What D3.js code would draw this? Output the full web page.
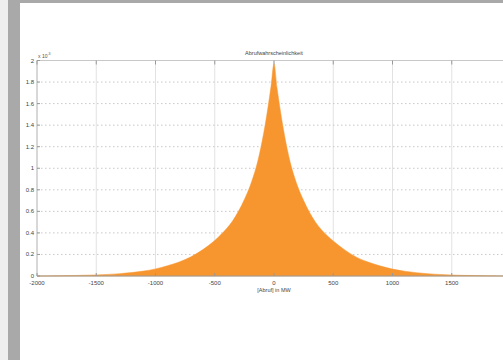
<!DOCTYPE html>
<html><head><meta charset="utf-8">
<script src="https://cdn.jsdelivr.net/npm/d3@7"></script>
<style>html,body{margin:0;padding:0;background:#fff;overflow:hidden}</style>
</head><body>
<svg id="c" width="503" height="360"></svg>
<script>
const title = "Abrufwahrscheinlichkeit";
const xLabel = "[Abruf] in MW";
const xTicks = [-2000, -1500, -1000, -500, 0, 500, 1000, 1500, 2000];
const yTicks = [0, 0.2, 0.4, 0.6, 0.8, 1, 1.2, 1.4, 1.6, 1.8, 2];
const yTickLabels = ["0", "0.2", "0.4", "0.6", "0.8", "1", "1.2", "1.4", "1.6", "1.8", "2"];
// Abruf in MW
const abruf = [-2000,-1900,-1800,-1700,-1600,-1500,-1400,-1300,-1200,-1100,-1000,-900,-800,-700,-600,-500,-400,-350,-300,-250,-200,-175,-150,-125,-100,-75,-50,-25,0,
               25,50,75,100,125,150,175,200,250,300,350,400,500,600,700,800,900,1000,1100,1200,1300,1400,1500,1600,1700,1800,1900,2000];
// probability (x 10^-3)
const prob = [0,0.001,0.002,0.004,0.007,0.01,0.015,0.022,0.032,0.046,0.066,0.095,0.13,0.178,0.245,0.33,0.44,0.51,0.6,0.71,0.84,0.92,1.01,1.12,1.25,1.4,1.57,1.76,1.97,
              1.75,1.56,1.39,1.24,1.11,1.0,0.91,0.83,0.7,0.59,0.5,0.43,0.325,0.24,0.172,0.127,0.092,0.064,0.045,0.031,0.021,0.014,0.009,0.006,0.004,0.002,0.001,0];

const svg = d3.select("#c");
// frame decorations
svg.append("rect").attr("x",0).attr("y",0).attr("width",8).attr("height",360).attr("fill","#efefef");
svg.append("rect").attr("x",8).attr("y",0).attr("width",12).attr("height",360).attr("fill","#a9a9a9");
svg.append("rect").attr("x",8).attr("y",0).attr("width",495).attr("height",3).attr("fill","#a9a9a9");

const x = d3.scaleLinear().domain([-2000,2000]).range([37,511]);
const y = d3.scaleLinear().domain([0,2]).range([276,60.5]);

const font = "Liberation Sans, Arial, sans-serif";
const g = svg.append("g");

// grid
g.selectAll(".vg").data(xTicks.slice(1,-1)).enter().append("line")
  .attr("x1",d=>x(d)).attr("x2",d=>x(d)).attr("y1",y(0)).attr("y2",y(2))
  .attr("stroke","#e2e2e2").attr("stroke-width",1);
g.selectAll(".hg").data(yTicks.slice(1,-1)).enter().append("line")
  .attr("x1",x(-2000)).attr("x2",x(2000)).attr("y1",d=>y(d)).attr("y2",d=>y(d))
  .attr("stroke","#c8c8c8").attr("stroke-width",1).attr("stroke-dasharray","1.5,2.5");

// area
const pts = abruf.map((a,i)=>[a,prob[i]]);
const area = d3.area().x(d=>x(d[0])).y0(y(0)).y1(d=>y(d[1])).curve(d3.curveMonotoneX);
g.append("path").attr("d",area(pts)).attr("fill","#f7952f").attr("stroke","#f7952f").attr("stroke-width",0.5);

// axes box
g.append("line").attr("x1",x(-2000)).attr("x2",x(2000)).attr("y1",y(0)).attr("y2",y(0)).attr("stroke","#9a9a9a");
g.append("line").attr("x1",x(-2000)).attr("x2",x(2000)).attr("y1",y(2)).attr("y2",y(2)).attr("stroke","#c8c8c8");
g.append("line").attr("x1",x(-2000)).attr("x2",x(-2000)).attr("y1",y(0)).attr("y2",y(2)).attr("stroke","#b0b0b0");

// ticks
g.selectAll(".xt").data(xTicks).enter().append("line")
  .attr("x1",d=>x(d)).attr("x2",d=>x(d)).attr("y1",y(0)).attr("y2",y(0)-3).attr("stroke","#999");
g.selectAll(".xt2").data(xTicks).enter().append("line")
  .attr("x1",d=>x(d)).attr("x2",d=>x(d)).attr("y1",y(2)).attr("y2",y(2)+4).attr("stroke","#999");
g.selectAll(".yt").data(yTicks).enter().append("line")
  .attr("x1",x(-2000)).attr("x2",x(-2000)+3).attr("y1",d=>y(d)).attr("y2",d=>y(d)).attr("stroke","#999");

// tick labels
g.selectAll(".xl").data(xTicks.slice(0,-1)).enter().append("text")
  .attr("x",d=>x(d)).attr("y",y(0)+8.5).attr("text-anchor","middle")
  .attr("font-family",font).attr("font-size",6).attr("fill","#444").text(d=>d);
g.selectAll(".yl").data(yTicks).enter().append("text")
  .attr("x",x(-2000)-3).attr("y",d=>y(d)+2).attr("text-anchor","end")
  .attr("font-family",font).attr("font-size",6).attr("fill","#444").text((d,i)=>yTickLabels[i]);

// exponent
const ex = g.append("text").attr("x",38).attr("y",57.5).attr("font-family",font).attr("font-size",5).attr("fill","#555");
ex.append("tspan").text("x 10");
ex.append("tspan").attr("dy",-3).attr("font-size",3.5).text("-3");

// title and x label
g.append("text").attr("x",x(0)).attr("y",55).attr("text-anchor","middle")
  .attr("font-family",font).attr("font-size",5.5).attr("fill","#444").text(title);
g.append("text").attr("x",x(0)).attr("y",292).attr("text-anchor","middle")
  .attr("font-family",font).attr("font-size",5.5).attr("fill","#444").text(xLabel);
</script>
</body></html>
